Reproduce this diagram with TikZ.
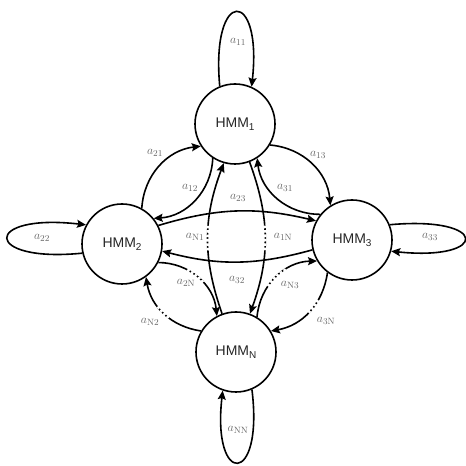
\documentclass[tikz,border=0pt]{standalone}
\usepackage{fontspec}
\newfontfamily\hmmfont{Liberation Sans}
\usetikzlibrary{arrows.meta,decorations.markings}
\newcommand{\hsub}[1]{\raisebox{-3.5pt}{\fontsize{10}{10}\selectfont #1}}
\begin{document}
\begin{tikzpicture}[x=1pt,y=1pt,
  hmm/.style={circle,draw,line width=1.6pt,minimum size=80pt,inner sep=0pt,text=black!85,font=\hmmfont\fontsize{14}{16}\selectfont},
  arr/.style={line width=1.6pt,-{Stealth[length=9pt,width=8pt,inset=1.5pt]}},
  lab/.style={text=black!60,font=\fontsize{13}{15}\selectfont,inner sep=0pt},
  dots/.style 2 args={postaction={decorate},decoration={markings,mark=between positions #1 and #2 step 4.4pt with {\fill[white] (-1.3pt,-1.6pt) rectangle (1.3pt,1.6pt);}}}
]
\useasboundingbox (0,0) rectangle (466,466);
\node[hmm] (h1) at (235,342) {HMM\hsub{1}};
\node[hmm] (h2) at (122,222) {HMM\hsub{2}};
\node[hmm] (h3) at (352,226) {HMM\hsub{3}};
\node[hmm] (hN) at (236,114) {HMM\hsub{N}};

% self loops
\draw[arr] (h1.112) .. controls +(-9,99) and +(11,99) .. (h1.66);
\draw[arr] (h2.193) .. controls +(-100,-10) and +(-104,12) .. (h2.152);
\draw[arr] (h3.22) .. controls +(100,9) and +(98,-10) .. (h3.-16);
\draw[arr] (hN.-67) .. controls +(12,-97) and +(-11,-96) .. (hN.-109);

% 1-2 lens
\draw[arr] (h2.61) to[bend left=40] (h1.213);
\draw[arr] (h1.237) to[bend left=42] (h2.39);
% 1-3 lens
\draw[arr] (h1.-31) to[bend left=40] (h3.122);
\draw[arr] (h3.141) to[bend left=42] (h1.303);
% 2-3
\draw[arr] (h2.27) to[bend left=15] (h3.152);
\draw[arr] (h3.194) to[bend left=15] (h2.-10);
% 1-N
\draw[arr,dots={0.43}{0.58}] (hN.110) to[bend left=20] (h1.-106);
\draw[arr,dots={0.43}{0.59}] (h1.-69) to[bend left=20] (hN.70);
% 2-N lens
\draw[arr,dots={0.44}{0.6}] (hN.149) to[bend left=36] (h2.-54);
\draw[arr,dots={0.36}{0.6}] (h2.-27) to[bend left=42] (hN.118);
% 3-N lens
\draw[arr,dots={0.38}{0.65}] (hN.59) to[bend left=42] (h3.211);
\draw[arr,dots={0.35}{0.55}] (h3.233) to[bend left=36] (hN.31);

% labels
\node[lab] (l11) at (238,424) {$a_{11}$};
\node[lab] (l22) at (42,228) {$a_{22}$};
\node[lab] (l33) at (430,229) {$a_{33}$};
\node[lab] (lNN) at (238,36) {$a_{\mathrm{NN}}$};
\node[lab] (l21) at (155,313) {$a_{21}$};
\node[lab] (l12) at (190,278) {$a_{12}$};
\node[lab] (l13) at (318,311) {$a_{13}$};
\node[lab] (l31) at (285,278) {$a_{31}$};
\node[lab] (l23) at (238,268) {$a_{23}$};
\node[lab] (lN1) at (195,229) {$a_{\mathrm{N}1}$};
\node[lab] (l1N) at (283,229) {$a_{1\mathrm{N}}$};
\node[lab] (l32) at (237,186) {$a_{32}$};
\node[lab] (l2N) at (186,183) {$a_{2\mathrm{N}}$};
\node[lab] (lN2) at (150,144) {$a_{\mathrm{N}2}$};
\node[lab] (lN3) at (290,181) {$a_{\mathrm{N}3}$};
\node[lab] (l3N) at (326,145) {$a_{3\mathrm{N}}$};
\end{tikzpicture}
\end{document}
